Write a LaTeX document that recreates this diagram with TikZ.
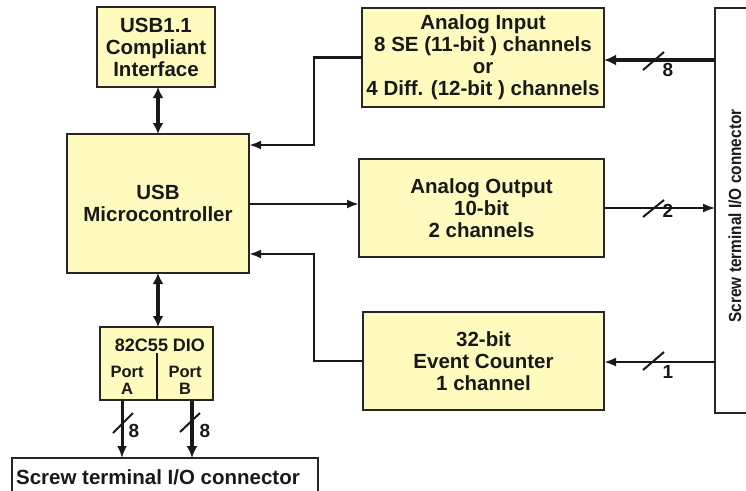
\documentclass[tikz,border=0pt]{standalone}
\usepackage{fontspec}
\setmainfont{Liberation Sans}
\usetikzlibrary{arrows.meta}
\definecolor{boxfill}{RGB}{255,251,191}
\definecolor{boxline}{RGB}{38,38,38}
\definecolor{ink}{RGB}{25,25,25}
\begin{document}
\begin{tikzpicture}[x=1pt,y=-1pt,
  blk/.style={draw=boxline, line width=2pt, fill=boxfill, inner sep=0pt, outer sep=0pt,
    anchor=north west, align=center, text=ink,
    font=\bfseries\fontsize{20.5}{22}\selectfont},
  iobox/.style={draw=boxline, line width=2pt, fill=white, inner sep=0pt, outer sep=0pt, anchor=north west},
  conn/.style={draw=ink, line width=2.4pt, -{Latex[length=12pt,width=9pt]}},
  thinconn/.style={draw=ink, line width=1.4pt, -{Latex[length=12pt,width=9pt]}},
  thickconn/.style={draw=ink, line width=4pt, -{Latex[length=12pt,width=11pt]}},
  dblconn/.style={draw=ink, line width=4pt, {Latex[length=11pt,width=11pt]}-{Latex[length=11pt,width=11pt]}},
  slashmark/.style={draw=ink, line width=2pt},
  num/.style={font=\bfseries\fontsize{19}{19}\selectfont, text=ink, inner sep=0pt},
  sub/.style={font=\bfseries\fontsize{17}{17}\selectfont, text=ink, inner sep=0pt, align=center}
]
\useasboundingbox (0,0) rectangle (746,490);
\clip (0,0) rectangle (746,490);

% blocks
\node[blk, minimum width=118pt, minimum height=80pt] (usb) at (97,7) {USB1.1\\Compliant\\Interface};
\node[blk, minimum width=182pt, minimum height=139pt] (mc) at (67,134) {USB\\Microcontroller};
\node[blk, minimum width=113pt, minimum height=73pt] (dio) at (100,327) {};
\node[blk, minimum width=242pt, minimum height=99pt] (ai) at (362,8) {Analog Input\\8 SE (11-bit ) channels\\or\\4 Diff. (12-bit ) channels};
\node[blk, minimum width=245pt, minimum height=98pt] (ao) at (359,159) {Analog Output\\10-bit\\2 channels};
\node[blk, minimum width=241pt, minimum height=98pt] (ec) at (363,312) {32-bit\\Event Counter\\1 channel};

% DIO internals
\node[sub, font=\bfseries\fontsize{18}{18}\selectfont] (diot) at (160,345) {82C55 DIO};
\coordinate (divtop) at (157,353);
\draw[draw=ink, line width=1.6pt] (divtop) -- (divtop |- dio.south);
\node[sub, text width=40pt, font=\bfseries\fontsize{16.5}{17}\selectfont] (porta) at (127,380) {Port\\A};
\node[sub, text width=40pt, font=\bfseries\fontsize{16.5}{17}\selectfont] (portb) at (185,380) {Port\\B};

% I/O connectors
\node[iobox, minimum width=60pt, minimum height=405pt] (rconn) at (715,8) {};
\node[rotate=90, text=ink, inner sep=0pt, xscale=0.88,
  font=\bfseries\fontsize{17.5}{17.5}\selectfont] (rlabel) at (735,216) {Screw terminal I/O connector};
\node[iobox, minimum width=306pt, minimum height=40pt] (bconn) at (12,458) {};
\node[text=ink, inner sep=0pt, font=\bfseries\fontsize{20.5}{20.5}\selectfont] (blabel) at (158,477) {Screw terminal I/O connector};

% helper coordinates
\coordinate (bus) at (314,0);
\coordinate (mcin1) at (249,145);
\coordinate (mcin2) at (249,254);
\coordinate (p8) at (715,60);
\coordinate (p2) at (715,208);
\coordinate (p1) at (715,362);
\coordinate (pa) at (122,458);
\coordinate (pb) at (192,458);

% connections
\draw[dblconn] (usb.south -| mc.north) -- (mc.north);
\draw[dblconn] (mc.south) -- (mc.south |- dio.north);
\draw[conn] (ai.west) -- (ai.west -| bus) |- (mcin1);
\draw[conn] (ec.west) -- (ec.west -| bus) |- (mcin2);
\draw[conn] (mc.east |- 0,204) -- (ao.west |- 0,204);
\draw[thickconn] (p8) -- (p8 -| ai.east);
\draw[thinconn] (ao.east) -- (p2);
\draw[conn, line width=2.8pt] (p1) -- (p1 -| ec.east);
\draw[conn, line width=3pt, -{Latex[length=12pt,width=10pt]}] (pa |- dio.south) -- (pa);
\draw[thickconn, line width=4.5pt] (pb |- dio.south) -- (pb);

% bus-width marks
\draw[slashmark] (643,70) -- (664,52);
\node[num] (n8) at (668,70) {8};
\draw[slashmark] (643,217) -- (664,200);
\node[num] (n2) at (668,211) {2};
\draw[slashmark] (643,370) -- (664,352);
\node[num] (n1) at (668,372) {1};
\draw[slashmark] (113,433) -- (133,413);
\node[num] (na) at (134,431) {8};
\draw[slashmark] (180,432) -- (200,413);
\node[num] (nb) at (205,431) {8};
\end{tikzpicture}
\end{document}
